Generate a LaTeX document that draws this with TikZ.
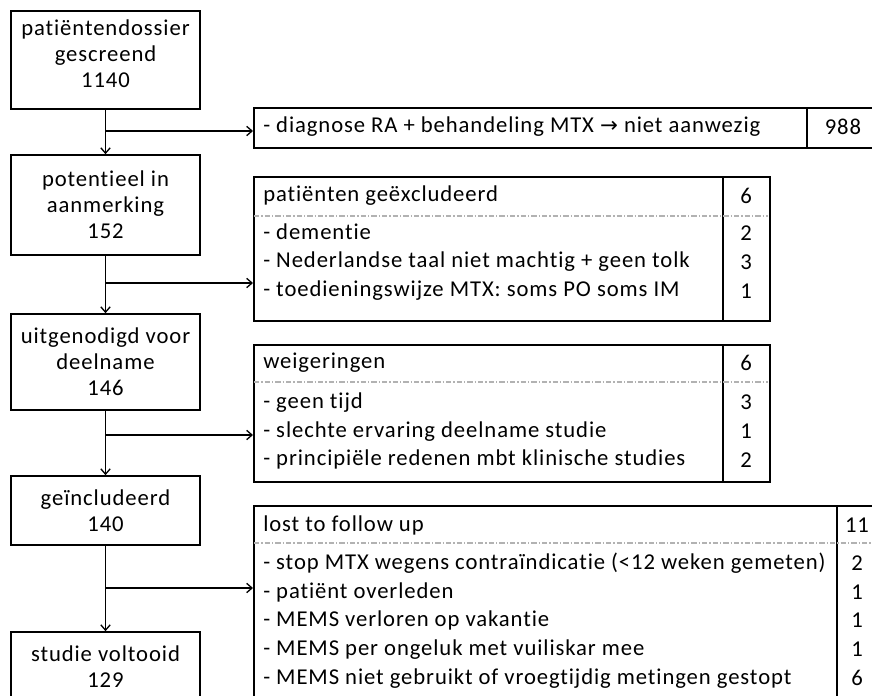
\documentclass[tikz,border=0pt]{standalone}
\usepackage{fontspec}
\setmainfont{Carlito}[LetterSpace=4,Ligatures=NoCommon]
\newfontfamily\arrowfont{DejaVu Sans}
\usetikzlibrary{arrows.meta}
\tikzset{
  stage/.style={draw, line width=1.2pt, align=center, minimum width=141.75pt, inner sep=0pt},
  panel/.style={draw, line width=1.2pt, anchor=north west, inner sep=0pt},
  cell/.style={anchor=west, align=left, inner sep=0pt, font=\fontsize{17}{21.5}\selectfont},
  count/.style={align=center, inner sep=0pt, font=\fontsize{17}{21.5}\selectfont},
  sep/.style={gray!60, line width=0.8pt, dash pattern=on 4pt off 1.5pt on 1pt off 1.5pt},
  flow/.style={line width=1pt, -{Straight Barb[length=4pt,width=7pt]}}
}

\begin{document}
\begin{tikzpicture}[x=0.75pt,y=-0.75pt,font=\fontsize{17}{19.5}\selectfont]
\path[use as bounding box] (0,0) rectangle (872,696);
\clip (0,0) rectangle (872,696);

\node[stage, minimum height=73.5pt, text depth=10pt] (dossier) at (105.5,60) {patiëntendossier\\gescreend\\1140};
\node[stage, minimum height=75pt] (potentieel) at (105.5,205) {potentieel in\\aanmerking\\152};
\node[stage, minimum height=72pt] (uitgenodigd) at (105.5,362) {uitgenodigd voor\\deelname\\146};
\node[stage, minimum height=51.75pt] (geincl) at (105.5,510.5) {geïncludeerd\\140};
\node[stage, minimum height=52.5pt] (voltooid) at (105.5,667) {studie voltooid\\129};

\node[panel, minimum width=469.5pt, minimum height=30pt] (t1) at (253,107) {};
\node[panel, minimum width=387pt, minimum height=108pt] (t2) at (253,176) {};
\node[panel, minimum width=387pt, minimum height=102.75pt] (t3) at (253,344) {};
\node[panel, minimum width=468.75pt, minimum height=161.25pt] (t4) at (253,505) {};

\draw[line width=1.2pt] (807,107) -- (807,147);
\draw[line width=1.2pt] (723,176) -- (723,320);
\draw[line width=1.2pt] (723,344) -- (723,481);
\draw[line width=1.2pt] (837,505) -- (837,720);
\draw[sep] (254,216) -- (768,216);
\draw[sep] (254,382) -- (768,382);
\draw[sep] (254,543) -- (877,543);

\node[cell] (t1txt) at (263,127) {- diagnose RA + behandeling MTX {\arrowfont\fontsize{16}{16}\selectfont →} niet aanwezig};
\node[count] (t1n) at (843,127) {988};

\node[cell] (t2kop) at (263,196) {patiënten geëxcludeerd};
\node[count] (t2tot) at (746,196) {6};
\node[cell] (t2txt) at (263,262) {- dementie\\- Nederlandse taal niet machtig + geen tolk\\- toedieningswijze MTX: soms PO soms IM};
\node[count] (t2n) at (746,262) {2\\3\\1};

\node[cell] (t3kop) at (263,363) {weigeringen};
\node[count] (t3tot) at (746,363) {6};
\node[cell] (t3txt) at (263,431) {- geen tijd\\- slechte ervaring deelname studie\\- principiële redenen mbt klinische studies};
\node[count] (t3n) at (746,431) {3\\1\\2};

\node[cell] (t4kop) at (263,525) {lost to follow up};
\node[count] (t4tot) at (857,525) {11};
\node[cell] (t4txt) at (263,620.5) {- stop MTX wegens contraïndicatie (<12 weken gemeten)\\- patiënt overleden\\- MEMS verloren op vakantie\\- MEMS per ongeluk met vuiliskar mee\\- MEMS niet gebruikt of vroegtijdig metingen gestopt};
\node[count] (t4n) at (857,620.5) {2\\1\\1\\1\\6};

\coordinate (k1) at (105.5,131);
\coordinate (k2) at (105.5,283);
\coordinate (k3) at (105.5,435);
\coordinate (k4) at (105.5,588);

\draw[flow] (dossier) -- (potentieel);
\draw[flow] (potentieel) -- (uitgenodigd);
\draw[flow] (uitgenodigd) -- (geincl);
\draw[flow] (geincl) -- (voltooid);
\draw[flow] (k1) -- (k1 -| t1.west);
\draw[flow] (k2) -- (k2 -| t2.west);
\draw[flow] (k3) -- (k3 -| t3.west);
\draw[flow] (k4) -- (k4 -| t4.west);
\end{tikzpicture}
\end{document}
